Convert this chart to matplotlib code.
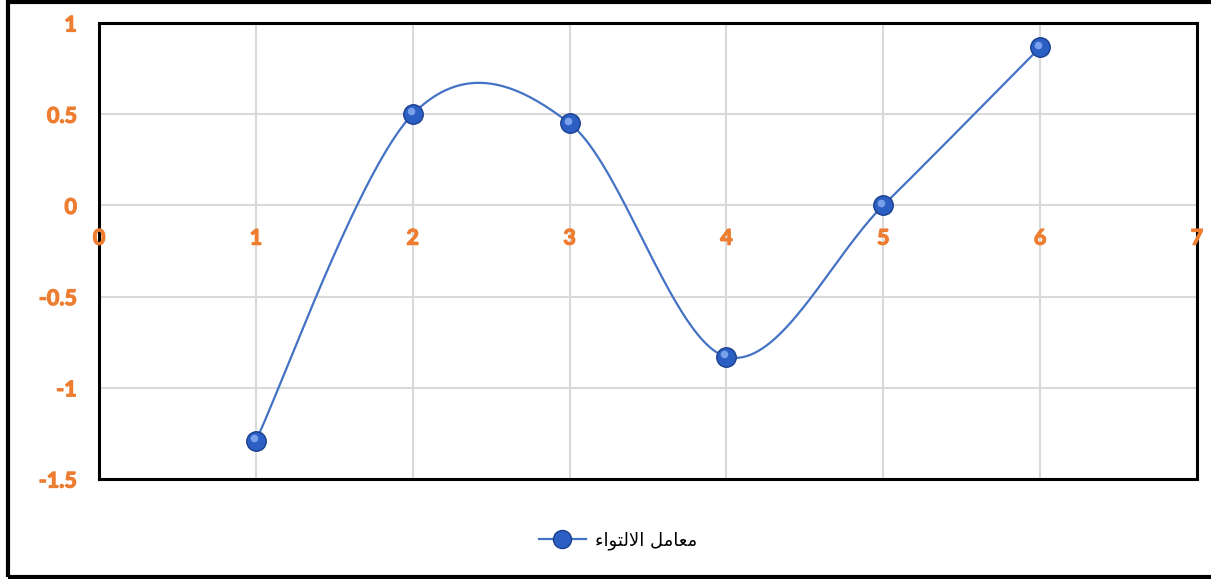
import numpy as np
import matplotlib.pyplot as plt
from matplotlib.lines import Line2D
from matplotlib.patches import Rectangle
import matplotlib.transforms as mtransforms
import matplotlib.patheffects as pe

x_vals = [1, 2, 3, 4, 5, 6]
skew_vals = [-1.29, 0.50, 0.45, -0.83, 0.0, 0.866]
x_ticks = [0, 1, 2, 3, 4, 5, 6, 7]
x_tick_labels = ['0', '1', '2', '3', '4', '5', '6', '7']
y_ticks = [-1.5, -1, -0.5, 0, 0.5, 1]
y_tick_labels = ['-1.5', '-1', '-0.5', '0', '0.5', '1']

# "معامل الالتواء" shaped into presentation forms, visual order (left to right)
series_name = ''.join(reversed('\uFEE3\uFECC\uFE8E\uFEE3\uFEDE' + ' ' +
                               '\uFE8D\uFEFB\uFEDF\uFE98\uFEEE\uFE8D\uFE80'))

ORANGE = '#ED7D31'
LINE_BLUE = '#4472C4'
bold_fx = [pe.withStroke(linewidth=0.9, foreground=ORANGE)]
tick_font = dict(fontfamily='Lato', fontweight='bold', fontsize=15.5, color=ORANGE,
                 path_effects=bold_fx)


def excel_smooth(xs, ys, n=40):
    # Bezier smoothing like Excel's "smoothed line"
    p = np.column_stack([xs, ys]).astype(float)
    p_ext = np.vstack([p[0], p, p[-1]])
    out = []
    t = np.linspace(0, 1, n)[:, None]
    for i in range(len(p) - 1):
        p0, p1 = p_ext[i + 1], p_ext[i + 2]
        c1 = p0 + (p_ext[i + 2] - p_ext[i]) / 6
        c2 = p1 - (p_ext[i + 3] - p_ext[i + 1]) / 6
        seg = ((1 - t) ** 3) * p0 + 3 * ((1 - t) ** 2) * t * c1 + 3 * (1 - t) * t ** 2 * c2 + t ** 3 * p1
        out.append(seg)
    out = np.vstack(out)
    return out[:, 0], out[:, 1]


fig = plt.figure(figsize=(12.11, 5.79), dpi=100)
ax = fig.add_axes([0.0818, 0.1727, 0.9884 - 0.0818, 0.9603 - 0.1727])

sx, sy = excel_smooth(x_vals, skew_vals)
ax.plot(sx, sy, color=LINE_BLUE, lw=1.6, zorder=3)
ax.plot(x_vals, skew_vals, ls='none', marker='o', ms=14, mfc='#2C5FC4',
        mec='#1B3F8C', mew=1.0, zorder=4)
hl = mtransforms.offset_copy(ax.transData, fig=fig, x=-1.5, y=2, units='points')
ax.plot(x_vals, skew_vals, ls='none', marker='o', ms=5.5, mfc='#8DB3F5',
        mec='none', alpha=0.8, transform=hl, zorder=5)

ax.set_xlim(0, 7)
ax.set_ylim(-1.5, 1)
ax.set_xticks(x_ticks)
ax.set_yticks(y_ticks)
ax.set_yticklabels(y_tick_labels, **tick_font)
ax.grid(True, color='#D9D9D9', lw=1.5, zorder=0)
ax.set_axisbelow(True)
ax.tick_params(axis='x', length=0, labelbottom=False)
ax.tick_params(axis='y', length=0, pad=16)
for sp in ax.spines.values():
    sp.set_color('black')
    sp.set_linewidth(2.2)

# x labels sit just under the y = 0 line (axis crosses at 0)
below_zero = mtransforms.offset_copy(ax.transData, fig=fig, x=0, y=-16, units='points')
for xt, lab in zip(x_ticks, x_tick_labels):
    ax.text(xt, 0, lab, transform=below_zero, ha='center', va='top',
            clip_on=False, zorder=6, **tick_font)

handle = Line2D([], [], color=LINE_BLUE, lw=1.6, marker='o', ms=13,
                mfc='#2C5FC4', mec='#1B3F8C')
fig.legend([handle], [series_name], loc='center', bbox_to_anchor=(0.51, 0.066),
           frameon=False, prop={'family': 'DejaVu Sans', 'size': 13},
           handlelength=2.6, handletextpad=0.5)

fig.patches.append(Rectangle((8 / 1211, 2 / 579), 1.2, 575 / 579, transform=fig.transFigure,
                             fill=False, ec='black', lw=3, zorder=10))

fig.savefig('out.png', dpi=100)
